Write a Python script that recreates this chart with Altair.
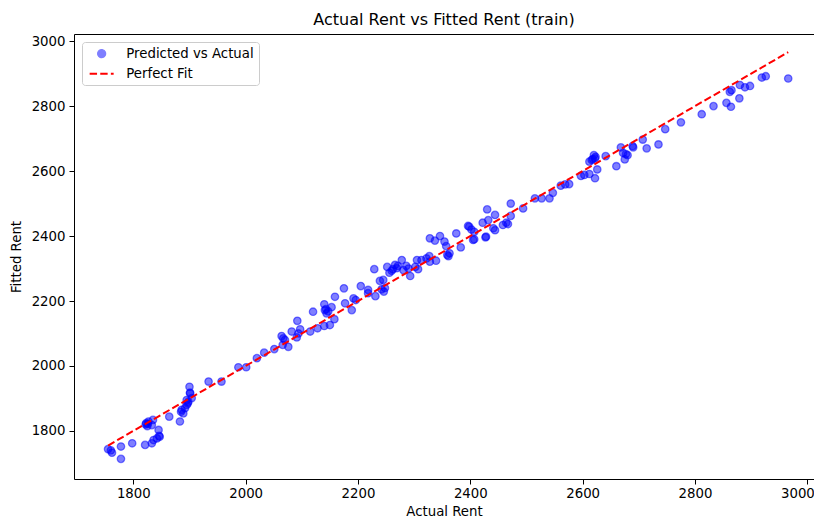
import altair as alt
import pandas as pd

actual = [1755, 1760, 1762, 1778, 1778, 1798, 1821, 1833, 1836, 1842, 1846, 1847, 1845,
          1823, 1827, 1825, 1822, 1826, 1835, 1833, 1864, 1883, 1885, 1886, 1889, 1892,
          1895, 1897, 1898, 1904, 1901, 1900, 1901, 1895, 1934, 1957,
          1987, 2001, 2020, 2033, 2051, 2064, 2067, 2070, 2066, 2076, 2082, 2092, 2091,
          2097, 2094, 2115, 2128, 2140, 2120, 2140, 2141, 2143, 2147, 2144, 2150, 2153,
          2158, 2159, 2175, 2177, 2189, 2192, 2196, 2205, 2218, 2218, 2231, 2229, 2239,
          2242, 2246, 2248, 2245, 2252, 2256, 2260, 2262, 2266, 2269, 2271, 2278, 2281,
          2286, 2290, 2293, 2302, 2307, 2305, 2313, 2322, 2327, 2328, 2339, 2328, 2337,
          2346, 2354, 2357, 2359, 2361, 2363, 2375, 2383, 2396, 2398, 2402, 2405, 2407,
          2407, 2427, 2428, 2422, 2430, 2432, 2444, 2441, 2444, 2458, 2464, 2467, 2472,
          2472, 2494, 2515, 2527, 2541, 2547, 2561, 2569, 2576, 2597, 2603, 2612, 2622,
          2626, 2612, 2616, 2618, 2620, 2622, 2623, 2641, 2660, 2668, 2672, 2677, 2675,
          2680, 2689, 2690, 2707, 2714, 2735, 2747, 2775, 2812, 2833, 2856, 2864, 2862,
          2865, 2879, 2880, 2889, 2898, 2919, 2926, 2966]

fitted = [1744, 1740, 1733, 1752, 1714, 1762, 1757, 1762, 1772, 1777, 1785, 1782, 1803,
          1824, 1829, 1815, 1820, 1822, 1834, 1818, 1844, 1829, 1859, 1865, 1854, 1870,
          1880, 1885, 1890, 1901, 1916, 1936, 1918, 1895, 1952, 1952,
          1996, 1996, 2024, 2041, 2052, 2092, 2085, 2080, 2065, 2059, 2106, 2139, 2088,
          2113, 2100, 2106, 2116, 2123, 2167, 2190, 2172, 2175, 2168, 2162, 2126, 2181,
          2144, 2213, 2239, 2193, 2172, 2208, 2203, 2246, 2234, 2224, 2215, 2298, 2262,
          2236, 2229, 2240, 2265, 2305, 2287, 2293, 2298, 2311, 2301, 2308, 2326, 2295,
          2308, 2300, 2277, 2305, 2298, 2326, 2326, 2331, 2338, 2321, 2324, 2393, 2386,
          2400, 2383, 2369, 2342, 2338, 2347, 2408, 2365, 2431, 2429, 2420, 2388, 2390,
          2413, 2396, 2398, 2441, 2482, 2449, 2465, 2424, 2418, 2434, 2441, 2437, 2462,
          2500, 2485, 2516, 2516, 2516, 2533, 2555, 2559, 2560, 2585, 2588, 2591, 2578,
          2605, 2629, 2634, 2637, 2649, 2639, 2644, 2646, 2615, 2673, 2656, 2652, 2636,
          2649, 2677, 2673, 2697, 2670, 2682, 2729, 2750, 2775, 2800, 2810, 2798, 2844,
          2849, 2824, 2865, 2858, 2862, 2888, 2892, 2885]

series_names = ["Predicted vs Actual", "Perfect Fit"]
x_ticks = [1800, 2000, 2200, 2400, 2600, 2800, 3000]
y_ticks = [1800, 2000, 2200, 2400, 2600, 2800, 3000]

n = min(len(actual), len(fitted))
pts = pd.DataFrame({"actual": actual[:n], "fitted": fitted[:n], "series": series_names[0]})
lo, hi = min(actual), max(actual)
line_df = pd.DataFrame({"actual": [lo, hi], "fitted": [lo, hi], "series": series_names[1]})

FONT = "DejaVu Sans"
FS = 13.3
xscale = alt.Scale(domain=[1694.4, 3011.9], nice=False, zero=False)
yscale = alt.Scale(domain=[1652, 3022], nice=False, zero=False)
cscale = alt.Scale(domain=series_names, range=["blue", "red"])

is_line = "datum.value === 'Perfect Fit'"
legend = alt.Legend(
    title=None, orient="top-left", offset=8, padding=5, cornerRadius=3,
    fillColor="rgba(255,255,255,0.8)", strokeColor="#cccccc",
    labelFont=FONT, labelFontSize=FS, labelColor="black", labelOffset=18,
    symbolSize=64, symbolOffset=8, rowPadding=5,
    symbolType=alt.ExprRef(f"{is_line} ? 'M-3,0H3' : 'circle'"),
    symbolFillColor=alt.ExprRef(f"{is_line} ? 'transparent' : 'blue'"),
    symbolStrokeColor=alt.ExprRef(f"{is_line} ? 'red' : 'blue'"),
    symbolStrokeWidth=alt.ExprRef(f"{is_line} ? 2 : 1.2"),
    symbolDash=alt.ExprRef(f"{is_line} ? [7.4, 3.2] : [1, 0]"),
    symbolOpacity=alt.ExprRef(f"{is_line} ? 1 : 0.5"),
)

xaxis = alt.Axis(title="Actual Rent", values=x_ticks, format="d",
                 labelFlush=10, labelFlushOffset=7)
yaxis = alt.Axis(title="Fitted Rent", values=y_ticks, format="d")

points = alt.Chart(pts).mark_circle(
    size=55, fillOpacity=0.5, stroke="blue", strokeWidth=1.3, strokeOpacity=0.5
).encode(
    x=alt.X("actual:Q", scale=xscale, axis=xaxis),
    y=alt.Y("fitted:Q", scale=yscale, axis=yaxis),
    color=alt.Color("series:N", scale=cscale, legend=legend),
)

line = alt.Chart(line_df).mark_line(strokeDash=[7.4, 3.2], strokeWidth=2).encode(
    x=alt.X("actual:Q", scale=xscale),
    y=alt.Y("fitted:Q", scale=yscale),
    color=alt.Color("series:N", scale=cscale, legend=legend),
)

chart = alt.layer(points, line).properties(
    width=740, height=445,
    title=alt.TitleParams("Actual Rent vs Fitted Rent (train)", font=FONT, fontSize=16,
                          fontWeight="normal", color="black", anchor="middle",
                          offset=-7, baseline="alphabetic"),
    padding={"left": 66, "top": 26, "right": 0, "bottom": 40},
    autosize="none",
).configure_view(stroke="black", strokeWidth=1).configure_axis(
    domain=False, grid=False, tickColor="black", tickSize=5, tickWidth=1,
    labelFont=FONT, labelFontSize=FS, labelColor="black", labelPadding=4,
    titleFont=FONT, titleFontSize=FS, titleFontWeight="normal", titleColor="black",
).configure_axisY(titlePadding=8).configure_axisX(titlePadding=5, labelPadding=2)

chart.save("out.html", embed_options={"renderer": "svg", "actions": False})
